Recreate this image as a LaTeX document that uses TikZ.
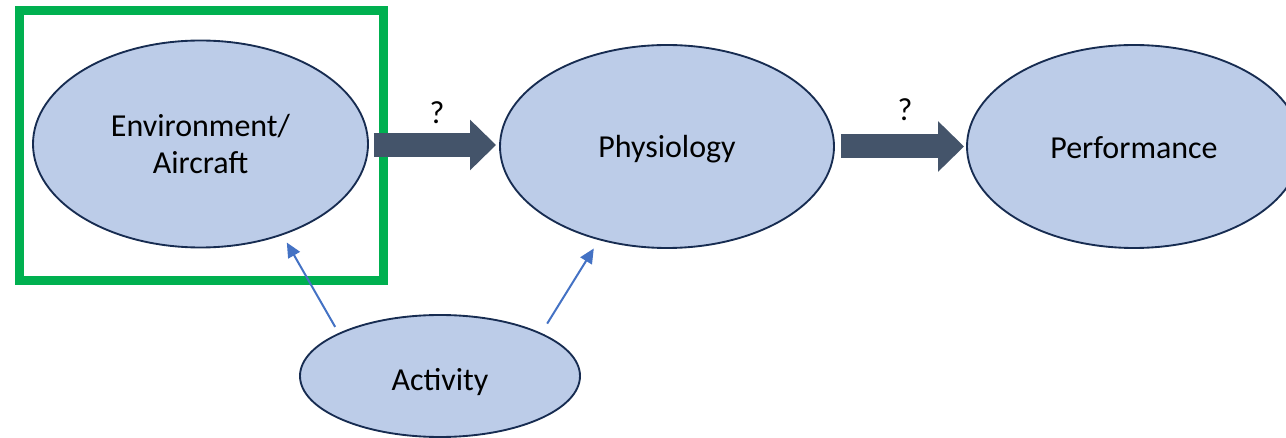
\documentclass[tikz,border=0pt]{standalone}
\usepackage{fontspec}
\setmainfont{Carlito}
\usetikzlibrary{shapes.geometric,arrows.meta}
\definecolor{bubblefill}{RGB}{188,204,232}
\definecolor{bubbleline}{RGB}{23,44,81}
\definecolor{slate}{RGB}{68,84,106}
\definecolor{linkblue}{RGB}{68,114,196}
\definecolor{framegreen}{RGB}{0,176,80}
\begin{document}
\begin{tikzpicture}[x=0.75pt,y=-0.75pt,
  bubble/.style={ellipse,draw=bubbleline,fill=bubblefill,line width=1.4pt,inner sep=0pt,
    align=center,font=\fontsize{24}{28.2}\selectfont},
  bigarrow/.style={draw=slate,line width=18pt,-{Triangle[length=19.5pt,width=36.75pt]}},
  thinarrow/.style={draw=linkblue,line width=1.5pt,-{Triangle[length=11pt,width=10pt]}},
  qmark/.style={font=\fontsize{24}{28.2}\selectfont,inner sep=0pt},
  focusbox/.style={draw=framegreen,line width=6.75pt}]
  \useasboundingbox (0,0) rectangle (1286,438);

  % stages of the chain
  \node[bubble,minimum width=335*0.75pt,minimum height=207*0.75pt] (env) at (200.5,144) {Environment/\\Aircraft};
  \node[bubble,minimum width=334*0.75pt,minimum height=203*0.75pt,text height=16.2pt,text depth=0pt] (phys) at (667,146.5) {Physiology};
  \node[bubble,minimum width=334*0.75pt,minimum height=203*0.75pt,text height=17.7pt,text depth=0pt] (perf) at (1134,146.5) {Performance};
  \node[bubble,minimum width=280*0.75pt,minimum height=122*0.75pt,text height=22.5pt,text depth=0pt] (act) at (440,376) {Activity};

  % highlight around the first stage
  \node[focusbox,minimum width=364*0.75pt,minimum height=270.5*0.75pt,inner sep=0pt] (focus) at (201.5,145.75) {};

  % uncertain causal links
  \coordinate (a1) at ([xshift=5*0.75pt,yshift=-0.75pt]env.east);
  \coordinate (a1end) at (a1 -| phys.west);
  \draw[bigarrow] (a1) -- ([xshift=-3*0.75pt]a1end);
  \draw[bigarrow] ([xshift=6*0.75pt]phys.east) -- ([xshift=-2*0.75pt]perf.west);
  \node[qmark] (q1) at (437,113) {?};
  \node[qmark] (q2) at (905,110) {?};

  % activity feeds both stages
  \draw[thinarrow,shorten <=7*0.75pt,shorten >=8.5*0.75pt] (act.157) -- (env.-48.3);
  \draw[thinarrow,shorten <=11*0.75pt,shorten >=9.8*0.75pt] (act.23) -- (phys.234.3);
\end{tikzpicture}
\end{document}
